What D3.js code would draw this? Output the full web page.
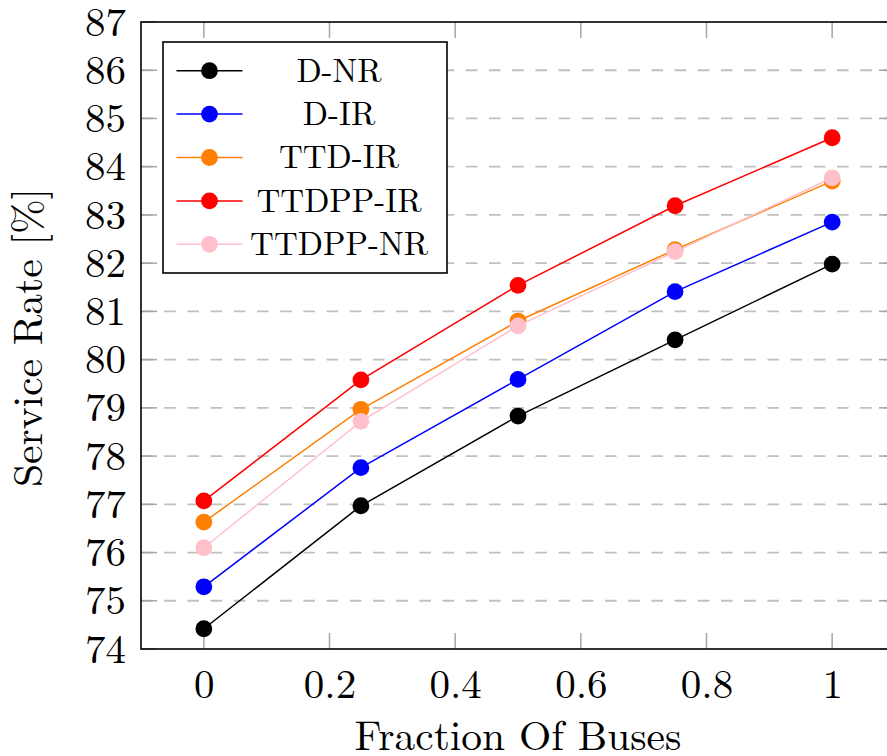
<!DOCTYPE html>
<html>
<head>
<meta charset="utf-8">
<script src="https://cdn.jsdelivr.net/npm/d3@7/dist/d3.min.js"></script>
<style>
  html, body { margin: 0; padding: 0; background: #fff; }
  svg { display: block; }
</style>
</head>
<body>
<svg id="chart" width="887" height="756"></svg>
<script>
// Fraction of buses on the x axis
const fractions = [0, 0.25, 0.5, 0.75, 1];

// Service rate (%) per strategy
const seriesNames = ["D-NR", "D-IR", "TTD-IR", "TTDPP-IR", "TTDPP-NR"];
const dNR      = [74.42, 76.97, 78.83, 80.41, 81.98];
const dIR      = [75.29, 77.76, 79.59, 81.41, 82.85];
const ttdIR    = [76.63, 78.97, 80.80, 82.28, 83.70];
const ttdppIR  = [77.07, 79.58, 81.54, 83.19, 84.60];
const ttdppNR  = [76.10, 78.72, 80.70, 82.24, 83.77];
const seriesColors = ["#000000", "#0000ff", "#ff8000", "#ff0000", "#ffc0cb"];

const xTicks = [0, 0.2, 0.4, 0.6, 0.8, 1];
const yTicks = [74, 75, 76, 77, 78, 79, 80, 81, 82, 83, 84, 85, 86, 87];

const FONT = "'Latin Modern Roman', 'Liberation Serif', serif";

const series = seriesNames.map((name, i) => ({
  name,
  color: seriesColors[i],
  values: [dNR, dIR, ttdIR, ttdppIR, ttdppNR][i]
}));

const svg = d3.select("#chart");
const plotLeft = 141, plotRight = 895, plotTop = 22, plotBottom = 649;

const x = d3.scaleLinear().domain([-0.1, 1.1]).range([plotLeft, plotRight]);
const y = d3.scaleLinear().domain([74, 87]).range([plotBottom, plotTop]);

// dashed horizontal grid
svg.append("g")
  .selectAll("line")
  .data(yTicks.filter(t => t > 74 && t < 87))
  .join("line")
  .attr("x1", plotLeft).attr("x2", plotRight)
  .attr("y1", d => y(d)).attr("y2", d => y(d))
  .attr("stroke", "#c0c0c0")
  .attr("stroke-width", 1.8)
  .attr("stroke-dasharray", "11.6,11.6");

// inward ticks on all four sides
const tickLen = 16;
const tickStyle = sel => sel.attr("stroke", "#a6a6a6").attr("stroke-width", 1.5);
const tg = svg.append("g");
tg.append("g").selectAll("line").data(xTicks).join("line")
  .attr("x1", d => x(d)).attr("x2", d => x(d))
  .attr("y1", plotBottom).attr("y2", plotBottom - tickLen).call(tickStyle);
tg.append("g").selectAll("line").data(xTicks).join("line")
  .attr("x1", d => x(d)).attr("x2", d => x(d))
  .attr("y1", plotTop).attr("y2", plotTop + tickLen).call(tickStyle);
tg.append("g").selectAll("line").data(yTicks).join("line")
  .attr("x1", plotLeft).attr("x2", plotLeft + tickLen)
  .attr("y1", d => y(d)).attr("y2", d => y(d)).call(tickStyle);
tg.append("g").selectAll("line").data(yTicks).join("line")
  .attr("x1", plotRight).attr("x2", plotRight - tickLen)
  .attr("y1", d => y(d)).attr("y2", d => y(d)).call(tickStyle);

// tick labels via d3 axes (tick lines hidden, drawn above)
const xAxis = svg.append("g")
  .attr("transform", `translate(0,${plotBottom})`)
  .call(d3.axisBottom(x).tickValues(xTicks).tickSize(0).tickPadding(20)
        .tickFormat(d => String(d)));
xAxis.select(".domain").remove();
xAxis.selectAll("text").attr("font-family", FONT).attr("font-size", 41).attr("fill", "#000");

const yAxis = svg.append("g")
  .attr("transform", `translate(${plotLeft},0)`)
  .call(d3.axisLeft(y).tickValues(yTicks).tickSize(0).tickPadding(15)
        .tickFormat(d3.format("d")));
yAxis.select(".domain").remove();
yAxis.selectAll("text").attr("font-family", FONT).attr("font-size", 41).attr("fill", "#000");

// series lines and markers
const line = d3.line().x((d, i) => x(fractions[i])).y(d => y(d));
const sg = svg.append("g");
series.forEach(s => {
  const g = sg.append("g");
  g.append("path")
    .attr("d", line(s.values))
    .attr("fill", "none")
    .attr("stroke", s.color)
    .attr("stroke-width", 1.5);
  g.selectAll("circle").data(s.values).join("circle")
    .attr("cx", (d, i) => x(fractions[i]))
    .attr("cy", d => y(d))
    .attr("r", 8.4)
    .attr("fill", s.color);
});

// plot frame
svg.append("rect")
  .attr("x", plotLeft).attr("y", plotTop)
  .attr("width", plotRight - plotLeft).attr("height", plotBottom - plotTop)
  .attr("fill", "none").attr("stroke", "#000").attr("stroke-width", 1.6);

// legend
const lg = svg.append("g");
lg.append("rect")
  .attr("x", 163).attr("y", 42).attr("width", 284).attr("height", 231)
  .attr("fill", "#fff").attr("stroke", "#000").attr("stroke-width", 1.6);
const rowY = d3.scalePoint().domain(seriesNames).range([70.7, 244.3]);
series.forEach(s => {
  const cy = rowY(s.name);
  lg.append("line")
    .attr("x1", 176.5).attr("x2", 242.5).attr("y1", cy).attr("y2", cy)
    .attr("stroke", s.color).attr("stroke-width", 1.5);
  lg.append("circle").attr("cx", 209.5).attr("cy", cy).attr("r", 8.4).attr("fill", s.color);
  lg.append("text")
    .attr("x", 339).attr("y", cy + 10.8)
    .attr("text-anchor", "middle")
    .attr("font-family", FONT)
    .attr("font-size", 33)
    .attr("fill", "#000")
    .text(s.name);
});

// axis titles
svg.append("text")
  .attr("x", (plotLeft + plotRight) / 2).attr("y", 749.5)
  .attr("text-anchor", "middle")
  .attr("font-family", FONT)
  .attr("font-size", 41.5)
  .attr("fill", "#000")
  .text("Fraction Of Buses");

svg.append("text")
  .attr("transform", `translate(42,${(plotTop + plotBottom) / 2 + 2}) rotate(-90)`)
  .attr("text-anchor", "middle")
  .attr("font-family", FONT)
  .attr("font-size", 41.5)
  .attr("fill", "#000")
  .text("Service Rate [%]");
</script>
</body>
</html>
